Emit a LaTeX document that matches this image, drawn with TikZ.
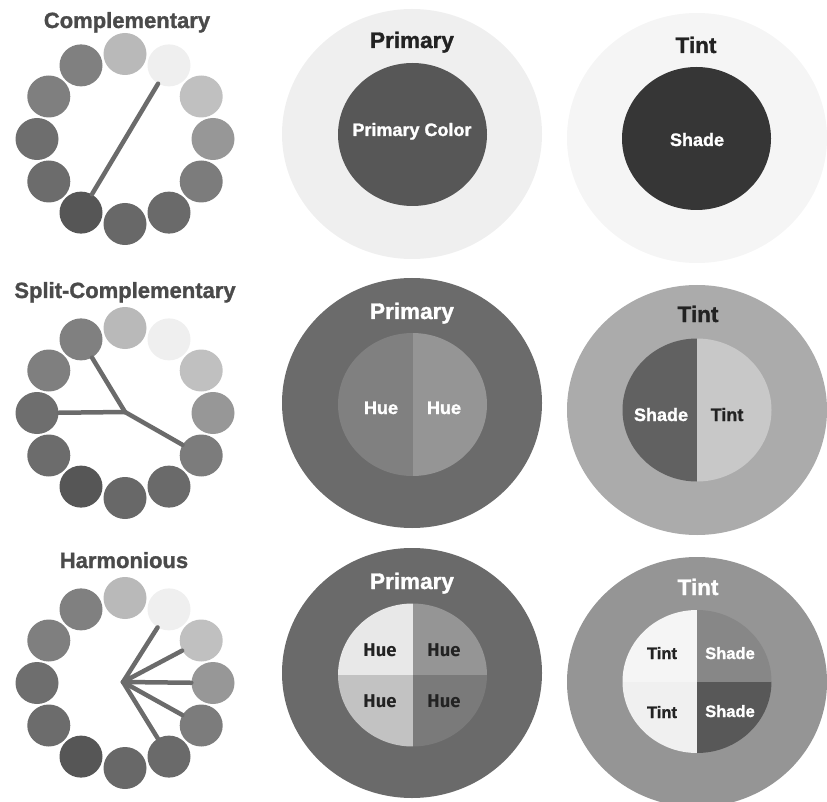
\documentclass[tikz,border=0pt]{standalone}
\usepackage{fontspec}
\setmainfont{Liberation Sans}[BoldFeatures={FakeBold=1.3}]
\newfontfamily\huefont{Fira Sans}
\usetikzlibrary{shapes.geometric}
\definecolor{w1}{HTML}{B9B9B9}
\definecolor{w2}{HTML}{EFEFEF}
\definecolor{w3}{HTML}{C0C0C0}
\definecolor{w4}{HTML}{979797}
\definecolor{w5}{HTML}{7C7C7C}
\definecolor{w6}{HTML}{6A6A6A}
\definecolor{w7}{HTML}{686868}
\definecolor{w8}{HTML}{565656}
\definecolor{w9}{HTML}{6C6C6C}
\definecolor{w10}{HTML}{6E6E6E}
\definecolor{w11}{HTML}{7F7F7F}
\definecolor{w12}{HTML}{808080}
\definecolor{spokegray}{HTML}{6B6B6B}
\definecolor{titlegray}{HTML}{4A4A4A}
\definecolor{darktext}{HTML}{222222}
\newcommand\mywheel[3]{%
  \foreach \i/\ang in {1/90,2/60,3/30,4/0,5/-30,6/-60,7/-90,8/-120,9/-150,10/180,11/150,12/120}{%
    \node[dot, fill=w\i] (#3\i) at ({#1+88*cos(\ang)},{#2-85*sin(\ang)}) {};
  }}
\begin{document}
\begin{tikzpicture}[x=1pt,y=-1pt,
  dot/.style={ellipse, inner sep=0pt, minimum width=43pt, minimum height=42pt, draw=none},
  spoke/.style={line width=4.5pt, draw=spokegray, line cap=round},
  wtitle/.style={font=\bfseries\fontsize{22}{22}\selectfont, text=titlegray, anchor=base, inner sep=0pt},
  ctitle/.style={font=\bfseries\fontsize{22.5}{22.5}\selectfont, anchor=base, inner sep=0pt},
  lbl/.style={font=\bfseries\fontsize{18}{18}\selectfont, anchor=base, inner sep=0pt},
  huelbl/.style={font=\huefont\bfseries\fontsize{18.5}{18.5}\selectfont, text=darktext, anchor=base, inner sep=0pt}]
\useasboundingbox (0,0) rectangle (827,802);

% ---------- color wheels ----------
\node[wtitle] (t1) at (127,28) {Complementary};
\mywheel{125}{139}{a}
\draw[spoke] (a2) -- (a8);

\node[wtitle] (t2) at (125,298) {Split-Complementary};
\mywheel{125}{413}{b}
\coordinate (bj) at (125,412);
\draw[spoke] (bj) -- (b12);
\draw[spoke] (bj) -- (b10);
\draw[spoke] (bj) -- (b5);

\node[wtitle] (t3) at (124,568) {Harmonious};
\mywheel{125}{683}{c}
\coordinate (cj) at (123,682);
\foreach \k in {2,3,4,5,6}{\draw[spoke] (cj) -- (c\k);}

% ---------- row 1 ----------
\fill[w2] (412,134) ellipse [x radius=130, y radius=125];
\fill[black!66] (412.5,134.5) ellipse [x radius=74.5, y radius=71.5];
\node[ctitle, text=darktext] (p1) at (412,48) {Primary};
\node[lbl, text=white] (pc) at (412,136) {Primary Color};

\fill[black!4] (697,138) ellipse [x radius=130, y radius=125];
\fill[black!79] (696.5,138.5) ellipse [x radius=74.5, y radius=71.5];
\node[ctitle, text=darktext] (q1) at (696,53) {Tint};
\node[lbl, text=white] (s1) at (697,146) {Shade};

% ---------- row 2 ----------
\fill[black!58] (412,403) ellipse [x radius=130, y radius=125];
\begin{scope}
  \clip (412.5,404.5) ellipse [x radius=74.5, y radius=71.5];
  \fill[black!50] (330,320) rectangle (412.5,490);
  \fill[black!41.5] (412.5,320) rectangle (495,490);
\end{scope}
\node[ctitle, text=white] (p2) at (412,319) {Primary};
\node[lbl, text=white] (h1) at (381,414) {Hue};
\node[lbl, text=white] (h2) at (444,414) {Hue};

\fill[black!33] (697,410) ellipse [x radius=130, y radius=125];
\begin{scope}
  \clip (697,410) ellipse [x radius=74.5, y radius=71.5];
  \fill[black!62] (615,330) rectangle (697,490);
  \fill[black!21.5] (697,330) rectangle (780,490);
\end{scope}
\node[ctitle, text=darktext] (q2) at (698,322) {Tint};
\node[lbl, text=white] (s2) at (661,421) {Shade};
\node[lbl, text=darktext] (n2) at (727,421) {Tint};

% ---------- row 3 ----------
\fill[black!58.5] (412,673) ellipse [x radius=130, y radius=125];
\begin{scope}
  \clip (412.5,675) ellipse [x radius=74.5, y radius=71.5];
  \fill[black!9] (330,595) rectangle (412.5,675);
  \fill[black!41.5] (412.5,595) rectangle (495,675);
  \fill[black!24] (330,675) rectangle (412.5,755);
  \fill[black!52] (412.5,675) rectangle (495,755);
\end{scope}
\node[ctitle, text=white] (p3) at (412,589) {Primary};
\node[huelbl] (h3) at (380,656) {Hue};
\node[huelbl] (h4) at (444,656) {Hue};
\node[huelbl] (h5) at (380,707) {Hue};
\node[huelbl] (h6) at (444,707) {Hue};

\fill[black!41.5] (697,682) ellipse [x radius=130, y radius=125];
\begin{scope}
  \clip (697,681.5) ellipse [x radius=74.5, y radius=71.5];
  \fill[black!4] (615,600) rectangle (697,681.5);
  \fill[black!47] (697,600) rectangle (780,681.5);
  \fill[black!6] (615,681.5) rectangle (697,760);
  \fill[black!65.5] (697,681.5) rectangle (780,760);
\end{scope}
\node[ctitle, text=white] (q3) at (698,595) {Tint};
\node[lbl, text=darktext, font=\bfseries\fontsize{16.5}{16.5}\selectfont] (n3) at (662,659) {Tint};
\node[lbl, text=white, font=\bfseries\fontsize{16.5}{16.5}\selectfont] (s3) at (730,659) {Shade};
\node[lbl, text=darktext, font=\bfseries\fontsize{16.5}{16.5}\selectfont] (n4) at (662,718) {Tint};
\node[lbl, text=white, font=\bfseries\fontsize{16.5}{16.5}\selectfont] (s4) at (730,717) {Shade};
\end{tikzpicture}
\end{document}
